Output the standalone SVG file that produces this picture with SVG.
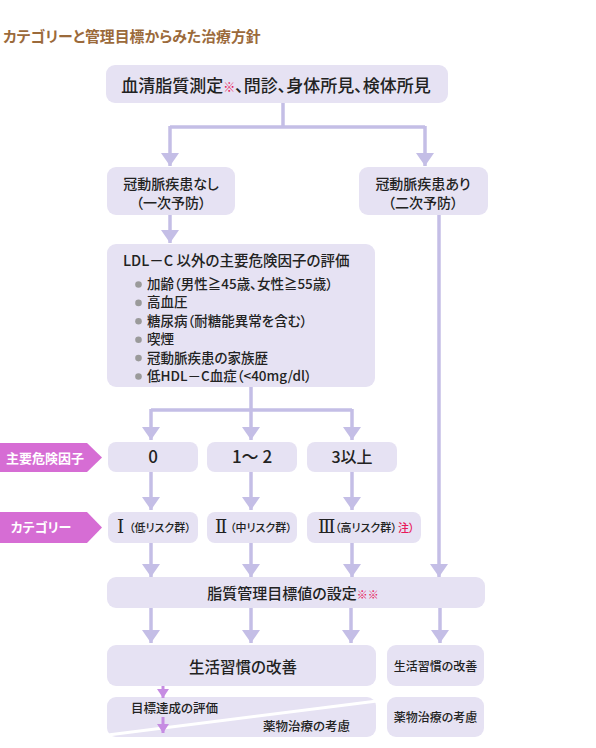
<svg xmlns="http://www.w3.org/2000/svg" width="596" height="748" viewBox="0 0 596 748">
<defs>
<style>
text{font-family:"Noto Sans CJK JP","Noto Sans",sans-serif;fill:#222;font-feature-settings:"palt";font-weight:500;}
.box{fill:#e6e2f3;}
.con{stroke:#c4bee6;stroke-width:3.5;fill:none;}
.mag{stroke:#c68ce2;stroke-width:3;fill:none;}
.title{font-size:14.9px;font-weight:bold;fill:#9b6a3b;}
.lbl{fill:#d66dd4;}
.lbltx{font-size:13px;font-weight:bold;fill:#fff;text-anchor:middle;}
.red{fill:#e8195a;}
.c{text-anchor:middle;}
.rom{font-family:"Liberation Serif","DejaVu Serif",serif;font-size:18px;font-feature-settings:normal;}
.sm{font-size:11px;}
.bul{fill:#9a9a9a;}
</style>
<marker id="ah" viewBox="0 0 13 18" refX="13" refY="9" markerWidth="13" markerHeight="18" markerUnits="userSpaceOnUse" orient="auto">
<path d="M0,0 L13,9 L0,18 z" fill="#c4bee6"/>
</marker>
<marker id="am" viewBox="0 0 9 12" refX="9" refY="6" markerWidth="9" markerHeight="12" markerUnits="userSpaceOnUse" orient="auto">
<path d="M0,0 L9,6 L0,12 z" fill="#c68ce2"/>
</marker>
</defs>
<rect width="596" height="748" fill="#fff"/>
<text class="title" x="3" y="42">カテゴリーと管理目標からみた治療方針</text>

<g id="connectors">
<path class="con" d="M283,103 V127 M170,127 H425"/>
<path class="con" d="M170,126 V166" marker-end="url(#ah)"/>
<path class="con" d="M425,126 V166" marker-end="url(#ah)"/>
<path class="con" d="M170,215 V243" marker-end="url(#ah)"/>
<path class="con" d="M439,215 V577" marker-end="url(#ah)"/>
<path class="con" d="M251,387 V410 M151,410 H352"/>
<path class="con" d="M151,409 V440" marker-end="url(#ah)"/>
<path class="con" d="M251,409 V440" marker-end="url(#ah)"/>
<path class="con" d="M352,409 V440" marker-end="url(#ah)"/>
<path class="con" d="M151,472 V510" marker-end="url(#ah)"/>
<path class="con" d="M251,472 V510" marker-end="url(#ah)"/>
<path class="con" d="M352,472 V510" marker-end="url(#ah)"/>
<path class="con" d="M151,543 V577" marker-end="url(#ah)"/>
<path class="con" d="M251,543 V577" marker-end="url(#ah)"/>
<path class="con" d="M352,543 V577" marker-end="url(#ah)"/>
<path class="con" d="M151,608 V643" marker-end="url(#ah)"/>
<path class="con" d="M251,608 V643" marker-end="url(#ah)"/>
<path class="con" d="M351,608 V643" marker-end="url(#ah)"/>
<path class="con" d="M440,608 V643" marker-end="url(#ah)"/>
</g>

<g id="n-top">
<rect class="box" x="106" y="65" width="342" height="38" rx="9"/>
<text x="276" y="92" class="c" font-size="17">血清脂質測定<tspan class="red" font-size="12">※</tspan>、問診、身体所見、検体所見</text>
</g>

<g id="n-none">
<rect class="box" x="107" y="167" width="128" height="48" rx="9"/>
<text x="171" y="189" class="c" font-size="14">冠動脈疾患なし</text>
<text x="171" y="208" class="c" font-size="14">（一次予防）</text>
</g>

<g id="n-yes">
<rect class="box" x="359" y="167" width="129" height="48" rx="9"/>
<text x="423" y="189" class="c" font-size="14">冠動脈疾患あり</text>
<text x="423" y="208" class="c" font-size="14">（二次予防）</text>
</g>

<g id="n-ldl">
<rect class="box" x="107" y="244" width="268" height="143" rx="9"/>
<text x="123" y="266" font-size="14.5">LDL－C 以外の主要危険因子の評価</text>
<g font-size="13.5">
<circle class="bul" cx="138.5" cy="284.5" r="3.3"/><text x="147" y="289">加齢（男性≧45歳、女性≧55歳）</text>
<circle class="bul" cx="138.5" cy="302.9" r="3.3"/><text x="147" y="307.4">高血圧</text>
<circle class="bul" cx="138.5" cy="321.3" r="3.3"/><text x="147" y="325.8">糖尿病（耐糖能異常を含む）</text>
<circle class="bul" cx="138.5" cy="339.7" r="3.3"/><text x="147" y="344.2">喫煙</text>
<circle class="bul" cx="138.5" cy="358.1" r="3.3"/><text x="147" y="362.6">冠動脈疾患の家族歴</text>
<circle class="bul" cx="138.5" cy="376.5" r="3.3"/><text x="147" y="381">低HDL－C血症（&lt;40mg/dl）</text>
</g>
</g>

<g id="lbl-risk">
<path class="lbl" d="M0,443 H87 L102,457.5 L87,472 H0 z"/>
<text class="lbltx" x="45" y="462.5">主要危険因子</text>
</g>

<g id="n-r0">
<rect class="box" x="108" y="442" width="90" height="30" rx="8"/>
<text x="153" y="463" class="c" font-size="17">0</text>
</g>
<g id="n-r12">
<rect class="box" x="207" y="442" width="90" height="30" rx="8"/>
<text x="252" y="463" class="c" font-size="17">1～ 2</text>
</g>
<g id="n-r3">
<rect class="box" x="307" y="442" width="90" height="30" rx="8"/>
<text x="352" y="463" class="c" font-size="16">3以上</text>
</g>

<g id="lbl-cat">
<path class="lbl" d="M0,512 H87 L102,527.5 L87,543 H0 z"/>
<text class="lbltx" x="41" y="532">カテゴリー</text>
</g>

<g id="n-c1">
<rect class="box" x="108" y="512" width="90" height="31" rx="8"/>
<text x="117" y="533"><tspan class="rom">Ⅰ</tspan><tspan class="sm" x="129" y="532">（低リスク群）</tspan></text>
</g>
<g id="n-c2">
<rect class="box" x="207" y="512" width="90" height="31" rx="8"/>
<text x="215" y="533"><tspan class="rom">Ⅱ</tspan><tspan class="sm" x="230" y="532">（中リスク群）</tspan></text>
</g>
<g id="n-c3">
<rect class="box" x="307" y="512" width="114" height="31" rx="8"/>
<text x="318" y="533"><tspan class="rom">Ⅲ</tspan><tspan class="sm" x="335" y="532">（高リスク群）</tspan><tspan class="sm red" x="398" y="532">注）</tspan></text>
</g>

<g id="n-target">
<rect class="box" x="107" y="577" width="378" height="31" rx="9"/>
<text x="293" y="599" class="c" font-size="15">脂質管理目標値の設定<tspan class="red" font-size="11">※※</tspan></text>
</g>

<g id="n-life1">
<rect class="box" x="107" y="645" width="269" height="41" rx="9"/>
<text x="243" y="673" class="c" font-size="15.5">生活習慣の改善</text>
</g>
<g id="n-life2">
<rect class="box" x="387" y="645" width="97" height="41" rx="9"/>
<text x="435.5" y="671" class="c" font-size="12">生活習慣の改善</text>
</g>

<g id="n-eval">
<rect class="box" x="107" y="697" width="269" height="40" rx="9"/>
<path d="M100,736 L385,700" stroke="#fff" stroke-width="3"/>
<text x="131" y="713" font-size="12.5">目標達成の評価</text>
<text x="263" y="731" font-size="12.5">薬物治療の考慮</text>
<path class="mag" d="M163,686 V698" marker-end="url(#am)"/>
<path class="mag" d="M163,717 V733" marker-end="url(#am)"/>
</g>
<g id="n-drug">
<rect class="box" x="387" y="697" width="97" height="40" rx="9"/>
<text x="435.5" y="722" class="c" font-size="12">薬物治療の考慮</text>
</g>
</svg>
